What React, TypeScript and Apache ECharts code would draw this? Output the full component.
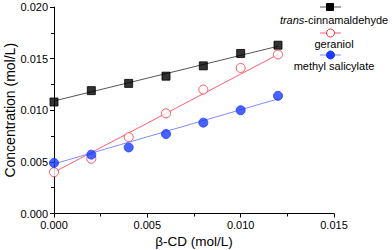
import React, { useEffect, useRef } from "react";
import * as echarts from "echarts";

const xValues = [0, 0.002, 0.004, 0.006, 0.008, 0.01, 0.012];
const cinnamaldehyde = [0.0108, 0.0119, 0.0126, 0.0133, 0.0143, 0.0155, 0.0163];
const geraniol = [0.004, 0.0053, 0.0074, 0.0097, 0.012, 0.0141, 0.0154];
const methylSalicylate = [0.0049, 0.0057, 0.0064, 0.0077, 0.0088, 0.01, 0.0114];

const fitX = [0, 0.012];
const cinnamaldehydeFit = [0.0109, 0.0162];
const geraniolFit = [0.0040, 0.0154];
const methylSalicylateFit = [0.0048, 0.0111];

const seriesNames = ["trans-cinnamaldehyde", "geraniol", "methyl salicylate"];
const xTicks = [0, 0.005, 0.01, 0.015];

const FONT = "Liberation Sans, Arial, sans-serif";

export default function App() {
  const ref = useRef<HTMLDivElement>(null);
  useEffect(() => {
    if (!ref.current) return;
    const chart = echarts.init(ref.current, undefined, { renderer: "svg" });
    const pts = (ys: number[]) => xValues.map((x, i) => [x, ys[i]]);
    const fit = (ys: number[]) => fitX.map((x, i) => [x, ys[i]]);

    const styles = [
      { line: "#555555", sym: "rect", size: 8, fill: "#000000", stroke: "#000000" },
      { line: "#ff6070", sym: "circle", size: 9, fill: "#ffffff", stroke: "#ff3040" },
      { line: "#7f8cff", sym: "circle", size: 9, fill: "#1a3cff", stroke: "#1a3cff" },
    ];
    const dataSets = [cinnamaldehyde, geraniol, methylSalicylate];
    const fitSets = [cinnamaldehydeFit, geraniolFit, methylSalicylateFit];

    const series: any[] = [];
    dataSets.forEach((d, i) => {
      const s = styles[i];
      series.push({
        type: "line",
        name: seriesNames[i] + " fit",
        data: fit(fitSets[i]),
        showSymbol: false,
        lineStyle: { color: s.line, width: 1 },
        z: 2,
      });
      series.push({
        type: "scatter",
        name: seriesNames[i],
        data: pts(d),
        symbol: s.sym,
        symbolSize: s.size,
        itemStyle: { color: s.fill, borderColor: s.stroke, borderWidth: 1 },
        z: 3,
      });
    });

    const legendGraphics: any[] = [];
    const legendY = [7, 33, 55];
    const textY = [20, 44, 66];
    seriesNames.forEach((name, i) => {
      const s = styles[i];
      const y = legendY[i];
      legendGraphics.push({
        type: "line",
        shape: { x1: 320, y1: y, x2: 341, y2: y },
        style: { stroke: s.line, lineWidth: 1 },
      });
      if (s.sym === "rect") {
        legendGraphics.push({
          type: "rect",
          shape: { x: 326.5, y: y - 3.5, width: 7, height: 7 },
          style: { fill: s.fill, stroke: s.stroke },
        });
      } else {
        legendGraphics.push({
          type: "circle",
          shape: { cx: 330.5, cy: y, r: 4 },
          style: { fill: s.fill, stroke: s.stroke, lineWidth: 1 },
        });
      }
      const isTrans = name.startsWith("trans-");
      legendGraphics.push({
        type: "text",
        x: 334,
        y: textY[i],
        style: {
          text: isTrans ? "{i|trans}-cinnamaldehyde" : name,
          font: `11px ${FONT}`,
          fill: "#000",
          align: "center",
          verticalAlign: "middle",
          rich: { i: { fontStyle: "italic", fontSize: 11, fontFamily: FONT } },
        },
      });
    });

    chart.setOption({
      animation: false,
      backgroundColor: "#ffffff",
      textStyle: { fontFamily: FONT },
      grid: { left: 54, right: 58, top: 7, bottom: 36.5, containLabel: false, outerBoundsMode: "none" },
      xAxis: {
        type: "value",
        min: xTicks[0],
        max: xTicks[xTicks.length - 1],
        interval: 0.005,
        name: "β-CD (mol/L)",
        nameLocation: "middle",
        nameGap: 21,
        nameMoveOverlap: false,
        nameTextStyle: { fontSize: 13.5, color: "#000", fontFamily: FONT },
        axisLine: { lineStyle: { color: "#000", width: 1 } },
        axisTick: { show: true, inside: false, length: 4, lineStyle: { color: "#000" } },
        minorTick: { show: true, splitNumber: 2, length: 3, lineStyle: { color: "#000" } },
        axisLabel: { formatter: (v: number) => v.toFixed(3), fontSize: 11, color: "#000", margin: 6, fontFamily: FONT },
        splitLine: { show: false },
      },
      yAxis: {
        type: "value",
        min: 0,
        max: 0.02,
        interval: 0.005,
        name: "Concentration (mol/L)",
        nameLocation: "middle",
        nameGap: 37,
        nameMoveOverlap: false,
        nameRotate: 90,
        nameTextStyle: { fontSize: 14, color: "#000", fontFamily: FONT },
        axisLine: { show: true, lineStyle: { color: "#000", width: 1 } },
        axisTick: { show: true, inside: false, length: 4, lineStyle: { color: "#000" } },
        minorTick: { show: true, splitNumber: 2, length: 3, lineStyle: { color: "#000" } },
        axisLabel: { formatter: (v: number) => v.toFixed(3), fontSize: 11, color: "#000", margin: 6, fontFamily: FONT },
        splitLine: { show: false },
      },
      series,
      graphic: legendGraphics,
    });
    return () => chart.dispose();
  }, []);
  return (
    <div
      ref={ref}
      style={{ position: "fixed", left: 0, top: 0, width: 392, height: 250, background: "#fff" }}
    />
  );
}
